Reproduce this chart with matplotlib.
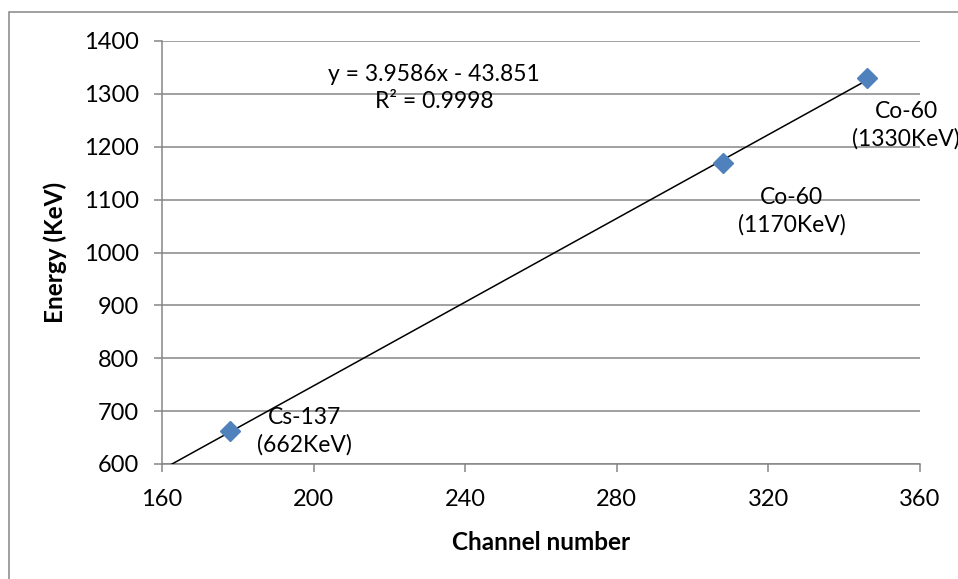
import matplotlib
matplotlib.use("Agg")
import matplotlib.pyplot as plt
import numpy as np
from matplotlib.patches import Rectangle

# calibration points
channels = [178, 308, 346]
energies = [662, 1170, 1330]
labels = ["Cs-137\n(662KeV)", "Co-60\n(1170KeV)", "Co-60\n(1330KeV)"]
# trendline as printed on the chart
slope = 3.9586
intercept = -43.851
r2 = 0.9998

x_ticks = [160, 200, 240, 280, 320, 360]
y_ticks = [600, 700, 800, 900, 1000, 1100, 1200, 1300, 1400]

plt.rcParams['font.family'] = ['Lato', 'DejaVu Sans']
grey = '#868686'
blue = '#4F81BD'
px = 0.72  # points per pixel at dpi 100

fig = plt.figure(figsize=(9.58, 5.79), dpi=100)
ax = fig.add_axes([162 / 958, 1 - 464 / 579, 758 / 958, 423 / 579])

# outer chart border
fig.patches.append(Rectangle((9 / 958, -0.1), 1.1, 1 - 12 / 579 + 0.1,
                             transform=fig.transFigure, fill=False,
                             edgecolor=grey, linewidth=1.1, clip_on=False))

# trendline
tx = np.linspace(x_ticks[0], channels[-1], 50)
ax.plot(tx, slope * tx + intercept, color='black', linewidth=1.1, zorder=3)

ax.plot(channels, energies, linestyle='none', marker='D', markersize=10,
        color=blue, zorder=4)

offsets = [(74, 0), (69, -49), (39, -47)]
for cx, e, lab, (dx, dy) in zip(channels, energies, labels, offsets):
    ax.annotate(lab, (cx, e), xytext=(dx * px, dy * px), textcoords='offset points',
                ha='center', va='center', fontsize=16.5, linespacing=1.35,
                annotation_clip=False)

ax.text(0.359, 0.89, "y = %.4fx - %.3f\nR² = %.4f" % (slope, -intercept, r2),
        transform=ax.transAxes, ha='center', va='center', fontsize=16.5,
        linespacing=1.35)

ax.set_xlim(x_ticks[0], x_ticks[-1])
ax.set_ylim(y_ticks[0], y_ticks[-1])
ax.set_xticks(x_ticks)
ax.set_yticks(y_ticks)
ax.yaxis.grid(True, color=grey, linewidth=1.1)
ax.set_axisbelow(True)
for s in ['top', 'right']:
    ax.spines[s].set_visible(False)
for s in ['left', 'bottom']:
    ax.spines[s].set_color(grey)
    ax.spines[s].set_linewidth(1.1)
ax.tick_params(axis='both', direction='out', length=8 * px, width=1.1,
               color=grey, labelsize=17)
ax.tick_params(axis='y', pad=11)
ax.tick_params(axis='x', pad=12)

ax.set_xlabel("Channel number", fontsize=17.5, fontweight='bold', labelpad=15)
ax.set_ylabel("Energy (KeV)", fontsize=17.5, fontweight='bold', labelpad=12)

fig.savefig("out.png", dpi=100)
